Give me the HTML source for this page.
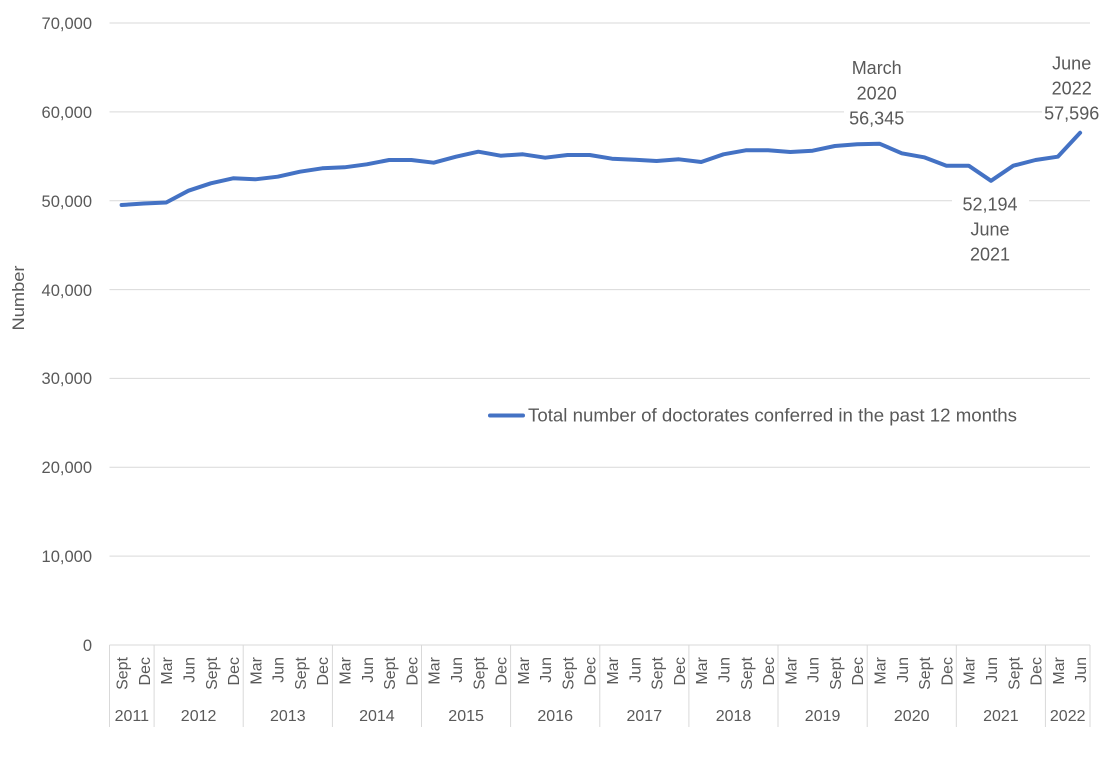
<!DOCTYPE html>
<html>
<head>
<meta charset="utf-8">
<style>
html,body{margin:0;padding:0;background:#fff;}
svg{display:block;}
text{font-family:"Liberation Sans",sans-serif;fill:#595959;}
</style>
</head>
<body>
<svg width="1111" height="766" viewBox="0 0 1111 766" xmlns="http://www.w3.org/2000/svg">
<rect width="1111" height="766" fill="#fff"/>
<!-- gridlines -->
<g stroke="#d9d9d9" stroke-width="1">
<line x1="109.5" y1="23" x2="1090" y2="23"/>
<line x1="109.5" y1="111.9" x2="1090" y2="111.9"/>
<line x1="109.5" y1="200.7" x2="1090" y2="200.7"/>
<line x1="109.5" y1="289.6" x2="1090" y2="289.6"/>
<line x1="109.5" y1="378.4" x2="1090" y2="378.4"/>
<line x1="109.5" y1="467.3" x2="1090" y2="467.3"/>
<line x1="109.5" y1="556.1" x2="1090" y2="556.1"/>
<line x1="109.5" y1="645" x2="1090" y2="645"/>
<!-- category dividers -->
<line x1="109.5" y1="645" x2="109.5" y2="727"/>
<line x1="154.1" y1="645" x2="154.1" y2="727"/>
<line x1="243.2" y1="645" x2="243.2" y2="727"/>
<line x1="332.4" y1="645" x2="332.4" y2="727"/>
<line x1="421.5" y1="645" x2="421.5" y2="727"/>
<line x1="510.6" y1="645" x2="510.6" y2="727"/>
<line x1="599.8" y1="645" x2="599.8" y2="727"/>
<line x1="688.9" y1="645" x2="688.9" y2="727"/>
<line x1="778.0" y1="645" x2="778.0" y2="727"/>
<line x1="867.2" y1="645" x2="867.2" y2="727"/>
<line x1="956.3" y1="645" x2="956.3" y2="727"/>
<line x1="1045.4" y1="645" x2="1045.4" y2="727"/>
<line x1="1090" y1="645" x2="1090" y2="727"/>
</g>
<!-- y axis labels -->
<g font-size="16.5" text-anchor="end">
<text x="92" y="29">70,000</text>
<text x="92" y="118">60,000</text>
<text x="92" y="207">50,000</text>
<text x="92" y="296">40,000</text>
<text x="92" y="384">30,000</text>
<text x="92" y="473">20,000</text>
<text x="92" y="562">10,000</text>
<text x="92" y="651">0</text>
</g>
<text transform="translate(24,298) rotate(-90)" font-size="17" text-anchor="middle" textLength="65" lengthAdjust="spacingAndGlyphs">Number</text>
<!-- month labels -->
<g font-size="16" text-anchor="end">
<text transform="translate(127.6,657) rotate(-90)">Sept</text>
<text transform="translate(149.9,657) rotate(-90)">Dec</text>
<text transform="translate(172.2,657) rotate(-90)">Mar</text>
<text transform="translate(194.5,657) rotate(-90)">Jun</text>
<text transform="translate(216.8,657) rotate(-90)">Sept</text>
<text transform="translate(239.1,657) rotate(-90)">Dec</text>
<text transform="translate(261.4,657) rotate(-90)">Mar</text>
<text transform="translate(283.7,657) rotate(-90)">Jun</text>
<text transform="translate(306.0,657) rotate(-90)">Sept</text>
<text transform="translate(328.2,657) rotate(-90)">Dec</text>
<text transform="translate(350.5,657) rotate(-90)">Mar</text>
<text transform="translate(372.8,657) rotate(-90)">Jun</text>
<text transform="translate(395.1,657) rotate(-90)">Sept</text>
<text transform="translate(417.4,657) rotate(-90)">Dec</text>
<text transform="translate(439.7,657) rotate(-90)">Mar</text>
<text transform="translate(462.0,657) rotate(-90)">Jun</text>
<text transform="translate(484.3,657) rotate(-90)">Sept</text>
<text transform="translate(506.6,657) rotate(-90)">Dec</text>
<text transform="translate(528.9,657) rotate(-90)">Mar</text>
<text transform="translate(551.2,657) rotate(-90)">Jun</text>
<text transform="translate(573.5,657) rotate(-90)">Sept</text>
<text transform="translate(595.7,657) rotate(-90)">Dec</text>
<text transform="translate(618.0,657) rotate(-90)">Mar</text>
<text transform="translate(640.3,657) rotate(-90)">Jun</text>
<text transform="translate(662.6,657) rotate(-90)">Sept</text>
<text transform="translate(684.9,657) rotate(-90)">Dec</text>
<text transform="translate(707.2,657) rotate(-90)">Mar</text>
<text transform="translate(729.5,657) rotate(-90)">Jun</text>
<text transform="translate(751.8,657) rotate(-90)">Sept</text>
<text transform="translate(774.1,657) rotate(-90)">Dec</text>
<text transform="translate(796.3,657) rotate(-90)">Mar</text>
<text transform="translate(818.6,657) rotate(-90)">Jun</text>
<text transform="translate(840.9,657) rotate(-90)">Sept</text>
<text transform="translate(863.2,657) rotate(-90)">Dec</text>
<text transform="translate(885.5,657) rotate(-90)">Mar</text>
<text transform="translate(907.8,657) rotate(-90)">Jun</text>
<text transform="translate(930.1,657) rotate(-90)">Sept</text>
<text transform="translate(952.4,657) rotate(-90)">Dec</text>
<text transform="translate(974.7,657) rotate(-90)">Mar</text>
<text transform="translate(997.0,657) rotate(-90)">Jun</text>
<text transform="translate(1019.3,657) rotate(-90)">Sept</text>
<text transform="translate(1041.5,657) rotate(-90)">Dec</text>
<text transform="translate(1063.8,657) rotate(-90)">Mar</text>
<text transform="translate(1086.1,657) rotate(-90)">Jun</text>
</g>
<!-- year labels -->
<g font-size="16" text-anchor="middle">
<text x="131.8" y="721">2011</text>
<text x="198.6" y="721">2012</text>
<text x="287.8" y="721">2013</text>
<text x="376.9" y="721">2014</text>
<text x="466.1" y="721">2015</text>
<text x="555.2" y="721">2016</text>
<text x="644.3" y="721">2017</text>
<text x="733.5" y="721">2018</text>
<text x="822.6" y="721">2019</text>
<text x="911.7" y="721">2020</text>
<text x="1000.9" y="721">2021</text>
<text x="1067.7" y="721">2022</text>
</g>
<!-- series -->
<polyline fill="none" stroke="#4472C4" stroke-width="4" stroke-linejoin="round" stroke-linecap="round"
points="121.6,205 143.9,203.5 166.2,202.5 188.5,190.7 210.8,183.3 233.1,178.3 255.4,179.3 277.7,176.7 300.0,171.7 322.2,168.3 344.5,167.3 366.8,164.3 389.1,160 411.4,160 433.7,162.7 456.0,156.7 478.3,151.7 500.6,155.7 522.9,154.3 545.2,157.7 567.5,155 589.7,155 612.0,158.7 634.3,159.7 656.6,161 678.9,159.3 701.2,162 723.5,154.3 745.8,150.3 768.1,150.3 790.3,152 812.6,150.7 834.9,146 857.2,144.3 879.5,143.7 901.8,153.3 924.1,157.3 946.4,165.7 968.7,165.7 991.0,180.8 1013.3,165.7 1035.5,160 1057.8,156.7 1080.1,132.8"/>
<!-- annotations -->
<rect x="844" y="56" width="62" height="72" fill="#fff"/>
<g font-size="18" text-anchor="middle">
<text x="876.7" y="74">March</text>
<text x="876.7" y="99.5">2020</text>
<text x="876.7" y="124.5">56,345</text>
</g>
<rect x="1042" y="50" width="60" height="72" fill="#fff"/>
<g font-size="18" text-anchor="middle">
<text x="1071.7" y="69.5">June</text>
<text x="1071.7" y="94.5">2022</text>
<text x="1071.7" y="119.5">57,596</text>
</g>
<rect x="952" y="192" width="77" height="72" fill="#fff"/>
<g font-size="18" text-anchor="middle">
<text x="990" y="210.5">52,194</text>
<text x="990" y="235.5">June</text>
<text x="990" y="260.5">2021</text>
</g>
<!-- legend -->
<line x1="490" y1="415.5" x2="523" y2="415.5" stroke="#4472C4" stroke-width="4" stroke-linecap="round"/>
<text x="528" y="421.5" font-size="18" textLength="489" lengthAdjust="spacingAndGlyphs">Total number of doctorates conferred in the past 12 months</text>
</svg>
</body>
</html>
